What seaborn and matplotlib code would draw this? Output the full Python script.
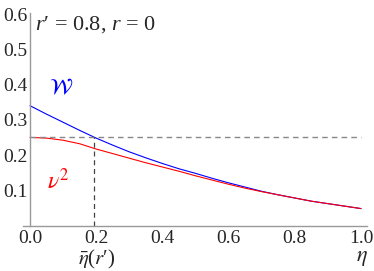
import numpy as np
import pandas as pd
import seaborn as sns
import matplotlib
matplotlib.use("Agg")
import matplotlib.pyplot as plt
from matplotlib.ticker import MultipleLocator, FixedLocator

eta = [0.0, 0.05, 0.1, 0.15, 0.2, 0.25, 0.3, 0.35, 0.4, 0.45, 0.5,
       0.55, 0.6, 0.65, 0.7, 0.75, 0.8, 0.85, 0.9, 0.95, 1.0]
W_vals = [0.340, 0.316, 0.293, 0.270, 0.248, 0.228, 0.209, 0.192, 0.176, 0.161, 0.148,
          0.134, 0.121, 0.109, 0.097, 0.087, 0.078, 0.069, 0.062, 0.055, 0.048]
nu2_vals = [0.250, 0.248, 0.242, 0.232, 0.217, 0.204, 0.191, 0.178, 0.166, 0.154, 0.141,
            0.129, 0.117, 0.106, 0.096, 0.087, 0.078, 0.069, 0.062, 0.055, 0.048]
eta_bar = 0.193
level = 0.25
x_ticks = [0.0, 0.2, 0.4, 0.6, 0.8, 1.0]
x_ticklabels = ["0.0", "0.2", "0.4", "0.6", "0.8", "1.0"]
y_ticks = [0.1, 0.2, 0.3, 0.4, 0.5, 0.6]
y_ticklabels = ["0.1", "0.2", "0.3", "0.4", "0.5", "0.6"]

sns.set_style("white")
plt.rcParams['font.family'] = 'serif'
plt.rcParams['font.serif'] = ['Liberation Serif', 'DejaVu Serif']
plt.rcParams['mathtext.fontset'] = 'custom'
plt.rcParams['mathtext.rm'] = 'Liberation Serif'
plt.rcParams['mathtext.it'] = 'Liberation Serif:italic'
plt.rcParams['mathtext.bf'] = 'Liberation Serif:bold'

df = pd.DataFrame({"eta": eta + eta,
                   "val": W_vals + nu2_vals,
                   "series": ["W"] * len(eta) + ["nu2"] * len(eta)})

fig = plt.figure(figsize=(3.74, 2.71), dpi=100)
ax = fig.add_axes([23/374, 45.5/271, (367-23)/374, (258-45.5)/271])

sns.lineplot(data=df, x="eta", y="val", hue="series",
             palette={"W": "#0000ff", "nu2": "#ff0000"},
             linewidth=0.8, legend=False, ax=ax, sort=False)

ax.plot([0, 1.0], [level, level], color="#888888", lw=1.0, ls=(0, (4, 3)))
ax.plot([eta_bar, eta_bar], [0, level], color="#444444", lw=0.9, ls=(0, (4, 3)))

ax.set_xlim(-0.021, 1.018)
ax.set_ylim(0, 0.603)
ax.set_xlabel("")
ax.set_ylabel("")

for s in ["top", "right"]:
    ax.spines[s].set_visible(False)
ax.spines["left"].set_position(("data", 0))
ax.spines["left"].set_bounds(0, 0.603)
for s in ["left", "bottom"]:
    ax.spines[s].set_color("#999999")
    ax.spines[s].set_linewidth(1.0)

ax.xaxis.set_major_locator(FixedLocator(x_ticks))
ax.set_xticklabels(x_ticklabels, fontfamily="Liberation Serif")
ax.xaxis.set_minor_locator(MultipleLocator(0.05))
ax.yaxis.set_major_locator(FixedLocator(y_ticks))
ax.set_yticklabels(y_ticklabels, fontfamily="Liberation Serif")
ax.yaxis.set_minor_locator(MultipleLocator(0.02))
ax.tick_params(which="major", direction="in", length=4, width=0.8, color="#999999",
               labelsize=14, pad=3)
ax.tick_params(axis="y", which="major", pad=2)
ax.tick_params(which="minor", direction="in", length=2.5, width=0.6, color="#999999")

fig.text(35/374, 1 - 25/271, "$r$\u2032 = 0.8, $r$ = 0", fontsize=16, ha="left", va="center",
         fontfamily="Liberation Serif")
fig.text(61/374, 1 - 89/271, r"$\mathcal{W}$", fontsize=16, color="#0000ff", ha="center", va="center",
         math_fontfamily="stix")
fig.text(58/374, 1 - 181/271, r"$\nu^2$", fontsize=17, color="#ff0000", ha="center", va="center",
         math_fontfamily="stix")
fig.text(97/374, 1 - 259/271, "$\\bar{\\eta}$($r$\u2032)", fontsize=15, ha="center", va="center",
         fontfamily="Liberation Serif", math_fontfamily="stix")
fig.text(362/374, 1 - 259/271, r"$\eta$", fontsize=16, ha="center", va="center",
         math_fontfamily="stix")

fig.savefig("out.png", dpi=100)
